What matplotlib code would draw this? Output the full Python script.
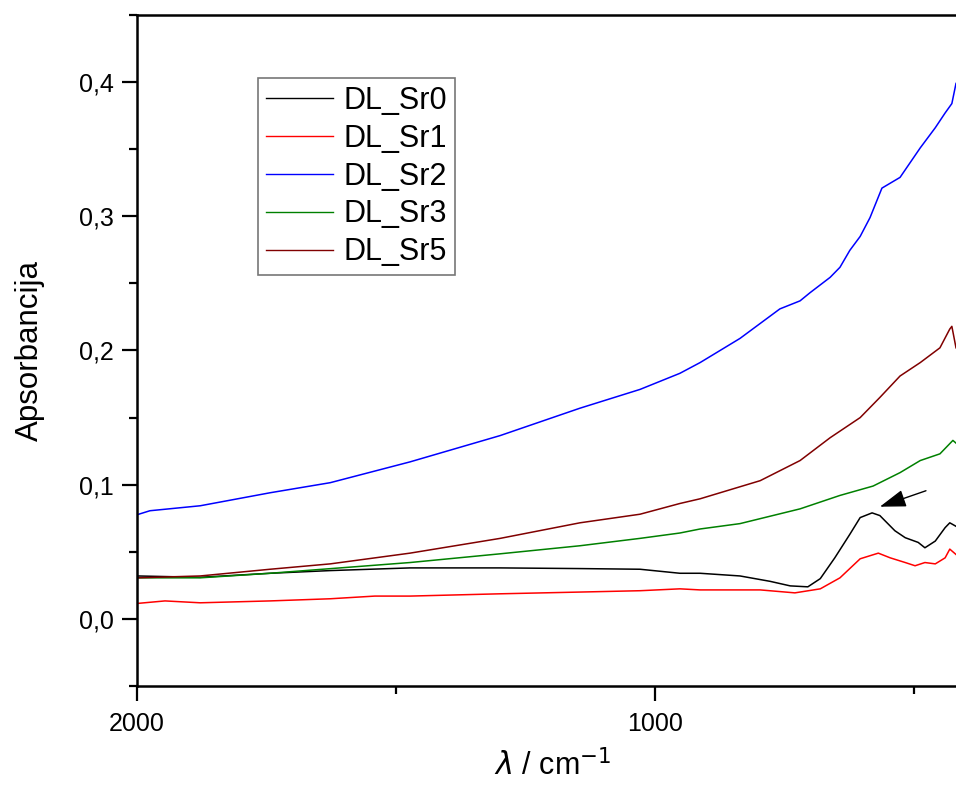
import matplotlib
matplotlib.use("Agg")
import matplotlib.pyplot as plt
from matplotlib.ticker import FixedLocator, MultipleLocator

plt.rcParams['font.family'] = ['Liberation Sans', 'DejaVu Sans']

# ---- data (wavenumber in cm^-1, absorbance) ----
wn_sr2 = [2000, 1975, 1878, 1743, 1627, 1473, 1299, 1145, 1029, 952, 913, 836,
          759, 720, 701, 662, 643, 624, 604, 585, 562, 527, 488, 459, 440, 427, 419]
a_sr2 = [0.0776, 0.0806, 0.0843, 0.094, 0.1015, 0.117, 0.1366, 0.157, 0.171, 0.183,
         0.191, 0.209, 0.231, 0.237, 0.243, 0.2545, 0.262, 0.2746, 0.285, 0.299,
         0.321, 0.329, 0.351, 0.366, 0.377, 0.384, 0.399]

wn_sr5 = [2000, 1878, 1743, 1627, 1473, 1299, 1145, 1029, 952, 913, 797, 720,
          662, 604, 566, 527, 488, 450, 431, 427, 419]
a_sr5 = [0.0306, 0.032, 0.037, 0.041, 0.049, 0.060, 0.0716, 0.078, 0.086, 0.0895,
         0.103, 0.118, 0.135, 0.150, 0.165, 0.181, 0.191, 0.202, 0.216, 0.218, 0.202]

wn_sr3 = [2000, 1878, 1743, 1473, 1299, 1145, 1029, 952, 913, 836, 720, 643,
          579, 527, 488, 450, 425, 419]
a_sr3 = [0.0306, 0.0306, 0.034, 0.042, 0.0485, 0.0545, 0.060, 0.064, 0.067, 0.071,
         0.082, 0.092, 0.099, 0.109, 0.118, 0.123, 0.133, 0.131]

wn_sr0 = [2000, 1878, 1743, 1627, 1473, 1299, 1145, 1029, 952, 913, 836, 778,
          739, 705, 681, 653, 624, 604, 581, 566, 537, 517, 492, 479, 459, 440,
          431, 419]
a_sr0 = [0.032, 0.031, 0.034, 0.036, 0.038, 0.038, 0.0375, 0.037, 0.034, 0.034,
         0.032, 0.028, 0.0246, 0.0239, 0.030, 0.0455, 0.063, 0.0755, 0.079, 0.077,
         0.0657, 0.0605, 0.057, 0.053, 0.058, 0.068, 0.0716, 0.069]

wn_sr1 = [2000, 1946, 1878, 1743, 1627, 1541, 1473, 1299, 1145, 1029, 952, 913,
          797, 730, 681, 643, 604, 569, 546, 517, 498, 479, 459, 440, 431, 419]
a_sr1 = [0.0115, 0.0134, 0.012, 0.0134, 0.015, 0.017, 0.017, 0.0187, 0.020, 0.021,
         0.0224, 0.0216, 0.0216, 0.0194, 0.0224, 0.0306, 0.0448, 0.049, 0.0455,
         0.042, 0.0396, 0.042, 0.041, 0.0455, 0.052, 0.048]

series = [
    ("DL_Sr0", wn_sr0, a_sr0, "#000000"),
    ("DL_Sr1", wn_sr1, a_sr1, "#FF0000"),
    ("DL_Sr2", wn_sr2, a_sr2, "#0000FF"),
    ("DL_Sr3", wn_sr3, a_sr3, "#008000"),
    ("DL_Sr5", wn_sr5, a_sr5, "#800000"),
]

y_ticks = [0.0, 0.1, 0.2, 0.3, 0.4]
y_tick_labels = ["0,0", "0,1", "0,2", "0,3", "0,4"]
x_ticks = [2000, 1000]
x_tick_labels = ["2000", "1000"]
x_minor = [1500, 500]

W, H = 956, 787
fig = plt.figure(figsize=(W / 100, H / 100), dpi=100)
ax = fig.add_axes([137 / W, 1 - 686 / H, 1 - 137 / W, (686 - 15) / H])

for name, x, y, c in series:
    ax.plot(x, y, color=c, lw=1.1, label=name)

ax.set_xlim(2000, 419)
ax.set_ylim(-0.05, 0.45)

ax.xaxis.set_major_locator(FixedLocator(x_ticks))
ax.set_xticklabels(x_tick_labels)
ax.xaxis.set_minor_locator(FixedLocator(x_minor))
ax.yaxis.set_major_locator(FixedLocator(y_ticks))
ax.set_yticklabels(y_tick_labels)
ax.yaxis.set_minor_locator(MultipleLocator(0.05))

ax.tick_params(which='major', direction='out', length=11, width=1.6, labelsize=18, pad=6)
ax.tick_params(which='minor', direction='out', length=6, width=1.6)
ax.tick_params(axis='x', which='major', pad=8)
for s in ['left', 'bottom', 'top']:
    ax.spines[s].set_linewidth(1.8)
ax.spines['right'].set_visible(False)

ax.set_ylabel("Apsorbancija", fontsize=22.5, labelpad=24)
ax.set_xlabel(r"$\lambda$ / cm$^{-1}$", fontsize=22, labelpad=10)
ax.xaxis.set_label_coords(0.507, -0.095)

ax.annotate("", xy=(566, 0.0836), xytext=(477, 0.0955),
            arrowprops=dict(arrowstyle="-|>,head_length=0.9,head_width=0.3",
                            color="black", lw=1.0, mutation_scale=18,
                            shrinkA=0, shrinkB=0))

leg = ax.legend(loc='upper left', bbox_to_anchor=(258 / W, 1 - 78 / H),
                bbox_transform=fig.transFigure, fontsize=22, frameon=True,
                fancybox=False, edgecolor='#555555', handlelength=2.2,
                handletextpad=0.35, labelspacing=0.26, borderpad=0.25,
                borderaxespad=0)
leg.get_frame().set_linewidth(1.2)
for l in leg.get_lines():
    l.set_linewidth(1.0)

fig.savefig("out.png", dpi=100)
